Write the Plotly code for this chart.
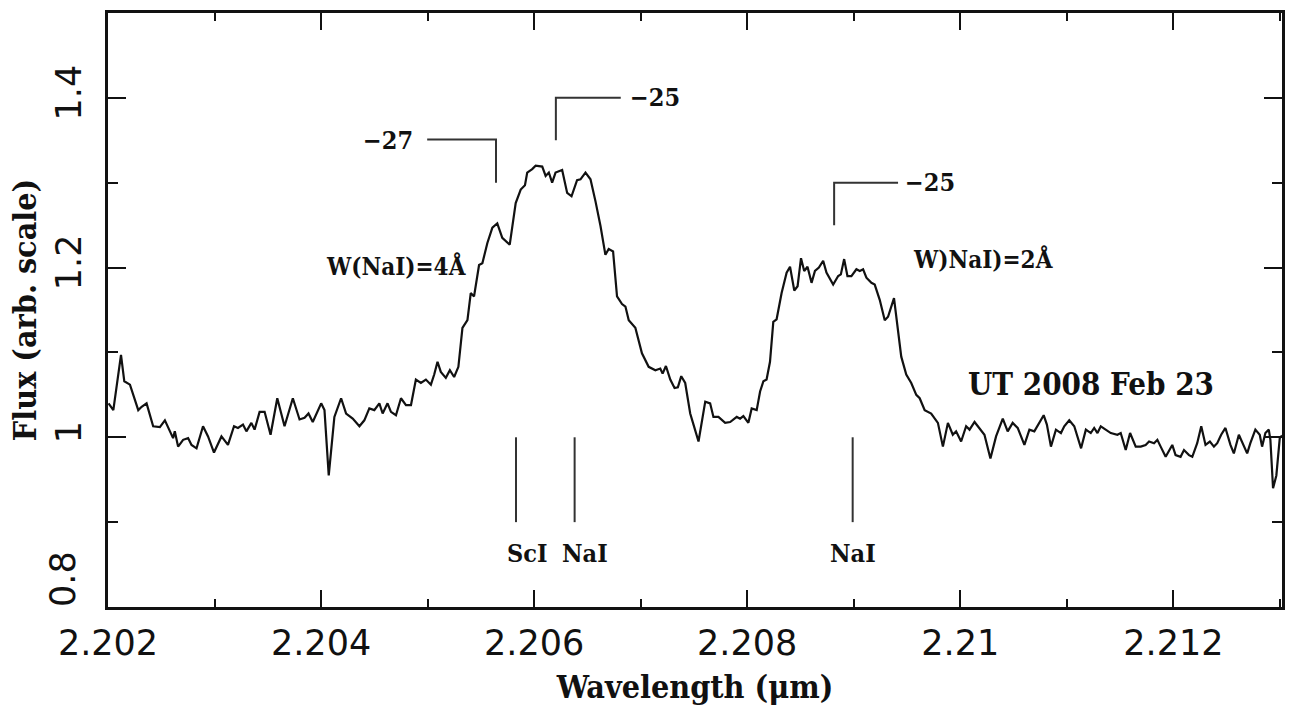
import plotly.graph_objects as go

# Observed spectrum: wavelength (micron) and relative flux
wavelength = [
    2.202005, 2.202050, 2.202122, 2.202153, 2.202206, 2.202284, 2.202316, 2.202362,
    2.202424, 2.202487, 2.202534, 2.202581, 2.202611, 2.202627, 2.202658, 2.202705,
    2.202752, 2.202784, 2.202831, 2.202892, 2.202939, 2.202995, 2.203065, 2.203126,
    2.203183, 2.203220, 2.203267, 2.203299, 2.203346, 2.203376, 2.203423, 2.203470,
    2.203526, 2.203589, 2.203657, 2.203735, 2.203798, 2.203845, 2.203882, 2.203922,
    2.204001, 2.204032, 2.204072, 2.204125, 2.204188, 2.204235, 2.204297, 2.204360,
    2.204406, 2.204453, 2.204500, 2.204547, 2.204578, 2.204624, 2.204656, 2.204703,
    2.204750, 2.204797, 2.204844, 2.204890, 2.204937, 2.204984, 2.205031, 2.205062,
    2.205093, 2.205124, 2.205171, 2.205209, 2.205249, 2.205289, 2.205327, 2.205374,
    2.205405, 2.205436, 2.205483, 2.205514, 2.205561, 2.205608, 2.205654, 2.205701,
    2.205771, 2.205827, 2.205874, 2.205914, 2.205935, 2.205982, 2.206014, 2.206076,
    2.206108, 2.206138, 2.206169, 2.206201, 2.206263, 2.206310, 2.206351, 2.206403,
    2.206435, 2.206482, 2.206529, 2.206576, 2.206623, 2.206669, 2.206700, 2.206741,
    2.206778, 2.206825, 2.206857, 2.206888, 2.206950, 2.207012, 2.207075, 2.207138,
    2.207184, 2.207206, 2.207237, 2.207278, 2.207318, 2.207349, 2.207381, 2.207418,
    2.207465, 2.207496, 2.207543, 2.207606, 2.207652, 2.207683, 2.207730, 2.207793,
    2.207840, 2.207902, 2.207933, 2.207964, 2.208011, 2.208042, 2.208089, 2.208121,
    2.208152, 2.208182, 2.208214, 2.208245, 2.208276, 2.208323, 2.208370, 2.208402,
    2.208442, 2.208473, 2.208505, 2.208535, 2.208566, 2.208604, 2.208636, 2.208673,
    2.208713, 2.208744, 2.208807, 2.208854, 2.208879, 2.208910, 2.208941, 2.208978,
    2.209025, 2.209057, 2.209088, 2.209119, 2.209166, 2.209197, 2.209244, 2.209291,
    2.209322, 2.209378, 2.209416, 2.209446, 2.209493, 2.209540, 2.209587, 2.209619,
    2.209666, 2.209727, 2.209790, 2.209837, 2.209884, 2.209930, 2.209961, 2.210008,
    2.210055, 2.210087, 2.210134, 2.210180, 2.210227, 2.210283, 2.210336, 2.210399,
    2.210445, 2.210492, 2.210539, 2.210602, 2.210649, 2.210695, 2.210742, 2.210783,
    2.210813, 2.210851, 2.210898, 2.210945, 2.210976, 2.211023, 2.211070, 2.211134,
    2.211179, 2.211225, 2.211257, 2.211288, 2.211319, 2.211366, 2.211413, 2.211475,
    2.211506, 2.211553, 2.211594, 2.211647, 2.211694, 2.211740, 2.211772, 2.211819,
    2.211850, 2.211881, 2.211928, 2.211990, 2.212021, 2.212068, 2.212100, 2.212147,
    2.212178, 2.212224, 2.212262, 2.212302, 2.212343, 2.212381, 2.212412, 2.212449,
    2.212489, 2.212536, 2.212568, 2.212615, 2.212655, 2.212693, 2.212723, 2.212770,
    2.212811, 2.212833, 2.212864, 2.212896, 2.212911, 2.212936, 2.212967, 2.212999,
    2.213020,
]
flux = [
    1.040, 1.032, 1.097, 1.066, 1.062, 1.032, 1.036, 1.040,
    1.013, 1.012, 1.020, 1.007, 0.999, 1.007, 0.989, 0.997,
    0.999, 0.991, 0.987, 1.013, 1.001, 0.982, 1.001, 0.991,
    1.013, 1.011, 1.015, 1.007, 1.017, 1.009, 1.030, 1.030,
    1.003, 1.046, 1.013, 1.046, 1.021, 1.023, 1.028, 1.018,
    1.040, 1.032, 0.955, 1.024, 1.046, 1.028, 1.022, 1.013,
    1.020, 1.034, 1.032, 1.040, 1.028, 1.040, 1.030, 1.026,
    1.046, 1.038, 1.038, 1.068, 1.064, 1.068, 1.062, 1.074,
    1.089, 1.077, 1.070, 1.079, 1.071, 1.083, 1.129, 1.138,
    1.170, 1.166, 1.203, 1.205, 1.229, 1.247, 1.252, 1.235,
    1.227, 1.276, 1.292, 1.297, 1.312, 1.316, 1.320, 1.319,
    1.308, 1.312, 1.300, 1.312, 1.315, 1.288, 1.284, 1.303,
    1.304, 1.312, 1.304, 1.278, 1.249, 1.215, 1.222, 1.219,
    1.166, 1.157, 1.154, 1.138, 1.129, 1.099, 1.083, 1.079,
    1.081, 1.075, 1.084, 1.068, 1.058, 1.059, 1.072, 1.064,
    1.028, 1.015, 0.995, 1.042, 1.040, 1.024, 1.024, 1.017,
    1.018, 1.024, 1.022, 1.025, 1.017, 1.034, 1.032, 1.054,
    1.066, 1.068, 1.089, 1.136, 1.139, 1.170, 1.194, 1.201,
    1.173, 1.178, 1.211, 1.196, 1.201, 1.182, 1.196, 1.200,
    1.208, 1.194, 1.180, 1.190, 1.192, 1.210, 1.190, 1.190,
    1.198, 1.196, 1.198, 1.188, 1.182, 1.180, 1.162, 1.138,
    1.142, 1.164, 1.127, 1.095, 1.074, 1.064, 1.050, 1.046,
    1.032, 1.028, 1.017, 0.989, 1.017, 1.003, 1.007, 0.995,
    1.013, 1.009, 1.018, 1.011, 1.003, 0.975, 1.001, 1.022,
    1.007, 1.017, 1.011, 0.991, 1.009, 1.007, 1.017, 1.026,
    1.015, 0.989, 1.009, 1.005, 1.013, 1.020, 1.013, 0.987,
    1.009, 1.005, 1.011, 1.005, 1.013, 1.009, 1.005, 1.003,
    1.005, 0.985, 1.005, 0.989, 0.989, 0.991, 0.995, 0.993,
    0.997, 0.989, 0.977, 0.991, 0.979, 0.977, 0.985, 0.979,
    0.977, 0.993, 1.013, 0.991, 0.995, 0.989, 0.993, 1.003,
    1.011, 0.991, 0.981, 1.003, 0.991, 0.981, 0.993, 1.009,
    1.003, 0.989, 1.005, 1.009, 0.997, 0.940, 0.955, 0.999,
    1.002,
]

# Rest wavelengths of the identified lines and their tick extent
line_names = ["ScI", "NaI", "NaI"]
line_wavelengths = [2.20583, 2.20638, 2.20899]
line_mark_flux = [0.90, 1.00]
line_label_offset = [0.00010, 0.00010, 0.0]
line_label_flux = 0.863

# Velocity brackets: (x path, y path, label, label x, label y)
bracket_x = [
    [2.204996, 2.205642, 2.205642],
    [2.206204, 2.206204, 2.206813],
    [2.208816, 2.208816, 2.209416],
]
bracket_y = [
    [1.351, 1.351, 1.300],
    [1.350, 1.400, 1.400],
    [1.250, 1.300, 1.300],
]
bracket_labels = ["\u221227", "\u221225", "\u221225"]
bracket_label_x = [2.20463, 2.20713, 2.20972]
bracket_label_y = [1.350, 1.400, 1.300]

# Equivalent-width notes and date
notes = ["W(NaI)=4\u00c5", "W)NaI)=2\u00c5", "UT 2008 Feb 23"]
notes_x = [2.20471, 2.21022, 2.21123]
notes_y = [1.201, 1.209, 1.063]
notes_size = [24, 24, 31]

# Axis ticks
x_ticks = [2.202, 2.204, 2.206, 2.208, 2.210, 2.212]
x_tick_text = ["2.202", "2.204", "2.206", "2.208", "2.21", "2.212"]
y_ticks = [0.8, 1.0, 1.2, 1.4]
y_tick_text = ["", "1", "1.2", "1.4"]
# the bottom y label sits a little above its tick so it clears the x labels
y_bottom_label = "0.8"

label_font = "DejaVu Serif Condensed, DejaVu Serif, serif"
tick_font = "DejaVu Sans, sans-serif"
tick_size = 35

fig = go.Figure()

fig.add_trace(go.Scatter(
    x=wavelength, y=flux, mode="lines",
    line=dict(color="#111111", width=2.2), showlegend=False, hoverinfo="skip",
))

# Line identification marks
for wl in line_wavelengths:
    fig.add_trace(go.Scatter(
        x=[wl, wl], y=line_mark_flux, mode="lines",
        line=dict(color="#333333", width=2), showlegend=False, hoverinfo="skip",
    ))

for xs, ys in zip(bracket_x, bracket_y):
    fig.add_trace(go.Scatter(
        x=xs, y=ys, mode="lines",
        line=dict(color="#333333", width=2), showlegend=False, hoverinfo="skip",
    ))

annotations = []
for name, wl, off in zip(line_names, line_wavelengths, line_label_offset):
    annotations.append(dict(
        x=wl + off, y=line_label_flux, text=name, showarrow=False,
        xanchor="center", yanchor="middle",
        font=dict(family=label_font, size=25, color="#111111", weight="bold"),
    ))
for txt, bx, by in zip(bracket_labels, bracket_label_x, bracket_label_y):
    annotations.append(dict(
        x=bx, y=by, text=txt, showarrow=False, xanchor="center", yanchor="middle",
        font=dict(family=label_font, size=25, color="#111111", weight="bold"),
    ))
for txt, nx, ny, sz in zip(notes, notes_x, notes_y, notes_size):
    annotations.append(dict(
        x=nx, y=ny, text=txt, showarrow=False, xanchor="center", yanchor="middle",
        font=dict(family=label_font, size=sz, color="#111111", weight="bold"),
    ))
annotations.append(dict(
    x=0, xref="paper", xanchor="right", xshift=-23, y=y_ticks[0], yref="y",
    yanchor="bottom", yshift=-2, text=y_bottom_label, textangle=-90, showarrow=False,
    font=dict(family=tick_font, size=tick_size, color="#111111"),
))

axis_common = dict(
    showline=True, linecolor="#111111", linewidth=2.5, mirror="allticks",
    ticks="inside", tickcolor="#111111", tickwidth=2,
    showgrid=False, zeroline=False,
    tickfont=dict(family=tick_font, size=tick_size, color="#111111"),
)

fig.update_layout(
    width=1291, height=718,
    margin=dict(l=108, r=6, t=13, b=111),
    paper_bgcolor="white", plot_bgcolor="white",
    annotations=annotations,
    xaxis=dict(
        range=[2.202, 2.21302], tickmode="array", tickvals=x_ticks, ticktext=x_tick_text,
        ticklen=17, ticklabelstandoff=3,
        minor=dict(tickmode="linear", tick0=2.202, dtick=0.001, ticklen=8,
                   tickwidth=2, tickcolor="#111111", ticks="inside", showgrid=False),
        title=dict(text="Wavelength (\u03bcm)", standoff=14,
                   font=dict(family=label_font, size=32, color="#111111", weight="bold")),
        **axis_common,
    ),
    yaxis=dict(
        range=[0.8, 1.5], tickmode="array", tickvals=y_ticks, ticktext=y_tick_text,
        ticklen=18, tickangle=-90, ticklabelstandoff=10,
        minor=dict(tickmode="linear", tick0=0.8, dtick=0.1, ticklen=10,
                   tickwidth=2, tickcolor="#111111", ticks="inside", showgrid=False),
        title=dict(text="Flux (arb. scale)", standoff=4,
                   font=dict(family=label_font, size=32, color="#111111", weight="bold")),
        **axis_common,
    ),
)

fig.write_html("out.html")
